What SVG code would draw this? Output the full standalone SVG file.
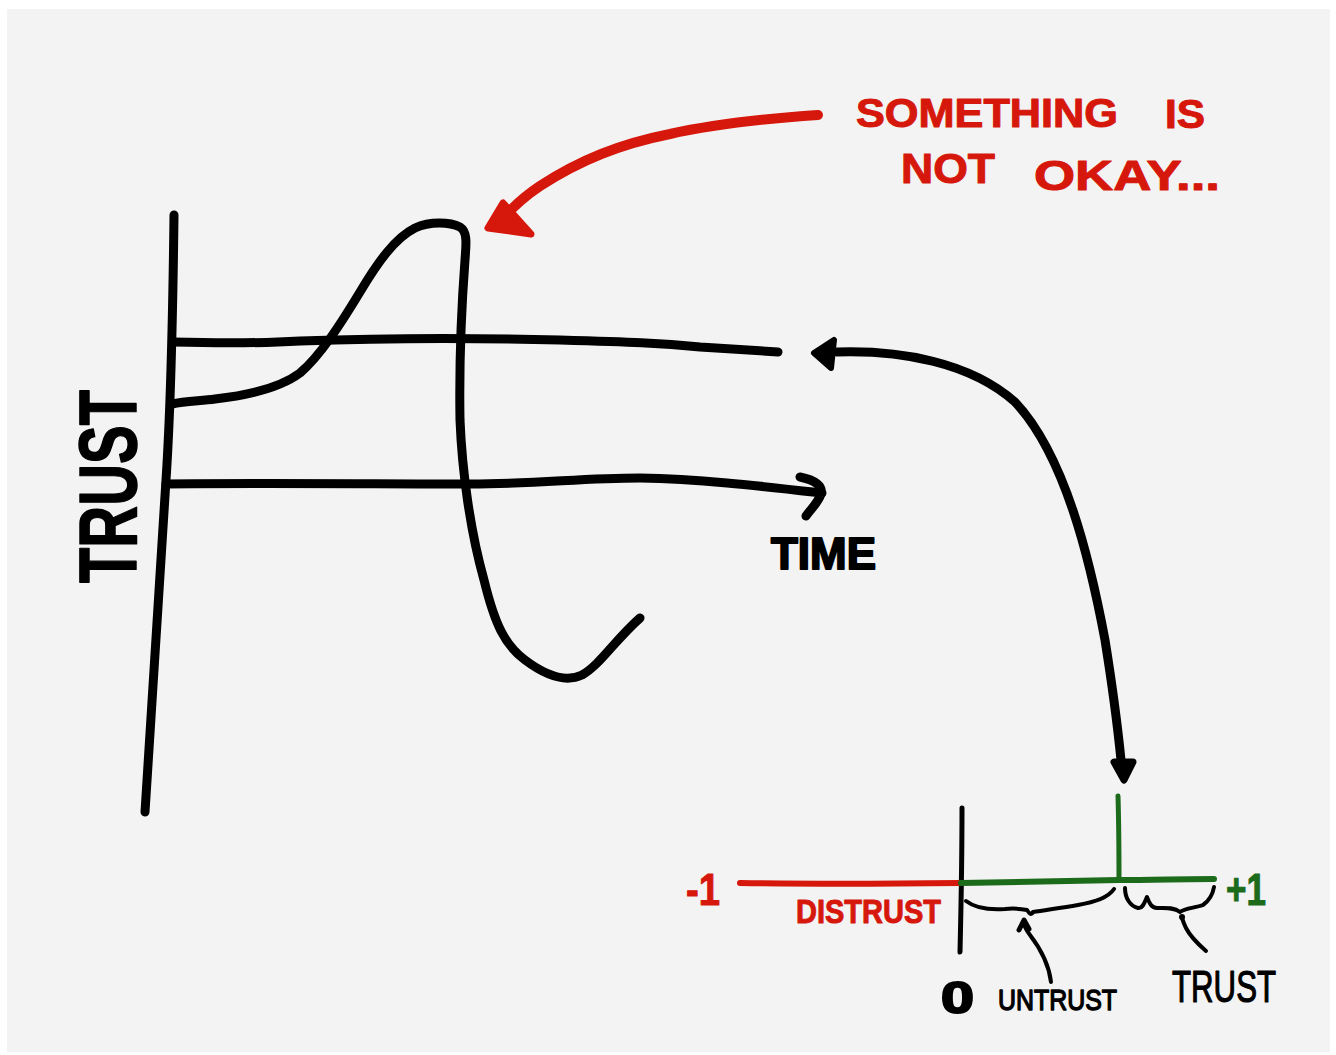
<svg xmlns="http://www.w3.org/2000/svg" width="1336" height="1055" viewBox="0 0 1336 1055">
  <defs>
    <style>
      .ink { fill: none; stroke: #000; stroke-linecap: round; stroke-linejoin: round; }
      .red { fill: none; stroke: #d6170b; stroke-linecap: round; stroke-linejoin: round; }
      .grn { fill: none; stroke: #1b6b1b; stroke-linecap: round; stroke-linejoin: round; }
      .hand { font-family: "Liberation Sans", "DejaVu Sans", sans-serif; font-weight: bold; stroke-linejoin: round; }
      .thin { font-family: "Liberation Sans", "DejaVu Sans", sans-serif; font-weight: normal; stroke-linejoin: round; }
    </style>
  </defs>

  <!-- paper -->
  <rect x="0" y="0" width="1336" height="1055" fill="#ffffff"/>
  <rect x="7" y="9" width="1323" height="1043" fill="#f3f3f3"/>

  <!-- trust-over-time chart -->
  <g id="chart">
    <!-- vertical axis -->
    <path class="ink" stroke-width="9" d="M174,215 C173,300 170,420 166,480 C160,580 152,700 145,812"/>
    <!-- upper level line -->
    <path class="ink" stroke-width="9" d="M173,342 C210,343 250,344 300,341 C380,338 450,337 560,340 C630,342 660,343 700,347 C730,349 760,351 778,352"/>
    <!-- time axis with arrow -->
    <path class="ink" stroke-width="9" d="M166,484 C250,483 380,484 470,484 C540,484 580,478 640,478 C700,479 760,486 822,493"/>
    <path class="ink" stroke-width="9" d="M800,477 C815,480 823,486 821,494 C818,503 810,510 806,516"/>
    <!-- trust curve -->
    <path class="ink" stroke-width="9" d="M172,404 C185,401 200,401 215,399 C250,395 280,388 300,373 C320,356 340,325 360,292 C378,262 395,238 415,228 C430,221 450,222 460,227 C468,232 466,245 465,260 C462,300 459,360 460,420 C462,470 470,530 484,580 C495,625 505,645 525,660 C545,675 565,683 582,675 C600,665 615,640 640,618"/>
    <!-- axis labels -->
    <text class="hand" transform="translate(136,583) rotate(-90)" x="0" y="0" font-size="82" fill="#000" stroke="#000" stroke-width="1.5" textLength="193" lengthAdjust="spacingAndGlyphs">TRUST</text>
    <text class="hand" x="771" y="569" font-size="45" fill="#000" stroke="#000" stroke-width="2" textLength="105" lengthAdjust="spacingAndGlyphs">TIME</text>
  </g>

  <!-- warning note -->
  <g id="note">
    <text class="hand" x="856" y="127" font-size="40" fill="#d6170b" stroke="#d6170b" stroke-width="1" textLength="262" lengthAdjust="spacingAndGlyphs">SOMETHING</text>
    <text class="hand" x="1165" y="128" font-size="40" fill="#d6170b" stroke="#d6170b" stroke-width="1" textLength="40" lengthAdjust="spacingAndGlyphs">IS</text>
    <text class="hand" x="901" y="183" font-size="42" fill="#d6170b" stroke="#d6170b" stroke-width="1" textLength="94" lengthAdjust="spacingAndGlyphs">NOT</text>
    <text class="hand" x="1034" y="190" font-size="42" fill="#d6170b" stroke="#d6170b" stroke-width="1" textLength="186" lengthAdjust="spacingAndGlyphs">OKAY...</text>
  </g>

  <!-- trust scale from -1 to +1 -->
  <g id="scale">
    <path class="ink" stroke-width="5" d="M962,808 C962,860 961,910 960,952"/>
    <path class="red" stroke-width="6" d="M740,883 C800,884 880,884 961,883"/>
    <path class="grn" stroke-width="6" d="M961,883 C1020,882 1070,881 1119,880 C1150,880 1185,879 1214,879"/>
    <path class="grn" stroke-width="5" d="M1118,796 C1119,830 1119,860 1119,880"/>
    <!-- braces under the positive side -->
    <path class="ink" stroke-width="4" d="M966,901 C975,908 990,910 1005,909 C1015,908 1022,909 1027,910 C1029,913 1031,916 1033,912 C1045,910 1060,908 1078,905 C1095,902 1108,898 1114,889"/>
    <path class="ink" stroke-width="4" d="M1125,888 C1125,898 1130,906 1138,908 C1143,909 1145,901 1147,897 C1149,902 1151,908 1157,908 C1165,908 1174,907 1180,912 C1185,908 1195,908 1203,905 C1210,900 1213,893 1214,887"/>
    <!-- pointers from the brace labels -->
    <path class="ink" stroke-width="4" d="M1051,982 C1049,965 1040,948 1030,935 C1027,931 1025,928 1024,924"/>
    <path class="ink" stroke-width="5" d="M1019,930 L1024,920 L1029,929"/>
    <path class="ink" stroke-width="4" d="M1206,951 C1198,944 1190,936 1186,928 C1184,924 1183,921 1182,918"/>
    <circle cx="1182" cy="917" r="3" fill="#000"/>
    <!-- scale labels -->
    <text class="hand" x="686" y="905" font-size="44" fill="#d6170b" stroke="#d6170b" stroke-width="1" textLength="34" lengthAdjust="spacingAndGlyphs">-1</text>
    <text class="hand" x="1226" y="905" font-size="44" fill="#1b6b1b" stroke="#1b6b1b" stroke-width="1" textLength="40" lengthAdjust="spacingAndGlyphs">+1</text>
    <text class="hand" x="796" y="923" font-size="34" fill="#d6170b" stroke="#d6170b" stroke-width="1" textLength="145" lengthAdjust="spacingAndGlyphs">DISTRUST</text>
    <text class="hand" x="941" y="1013" font-size="44" fill="#000" stroke="#000" stroke-width="2" textLength="33" lengthAdjust="spacingAndGlyphs">0</text>
    <text class="thin" x="998" y="1010" font-size="30" fill="#000" stroke="#000" stroke-width="1.4" textLength="119" lengthAdjust="spacingAndGlyphs">UNTRUST</text>
    <text class="thin" x="1172" y="1002" font-size="44" fill="#000" stroke="#000" stroke-width="1.2" textLength="104" lengthAdjust="spacingAndGlyphs">TRUST</text>
  </g>

  <!-- connectors -->
  <g id="connectors">
    <!-- red pointer to the peak -->
    <path class="red" stroke-width="10" d="M818,115 C760,119 710,125 670,134 C620,144 580,160 540,186 C525,196 515,205 505,216"/>
    <polygon points="503,203 488,228 531,234" fill="#d6170b" stroke="#d6170b" stroke-width="7" stroke-linejoin="round"/>
    <!-- two-way arrow between chart level and scale -->
    <path class="ink" stroke-width="9" d="M837,352 C900,350 970,362 1015,402 C1065,455 1090,560 1105,640 C1113,690 1118,730 1121,760"/>
    <polygon points="814,353 834,340 831,368" fill="#000" stroke="#000" stroke-width="6" stroke-linejoin="round"/>
    <polygon points="1114,762 1133,762 1124,780" fill="#000" stroke="#000" stroke-width="7" stroke-linejoin="round"/>
  </g>
</svg>
